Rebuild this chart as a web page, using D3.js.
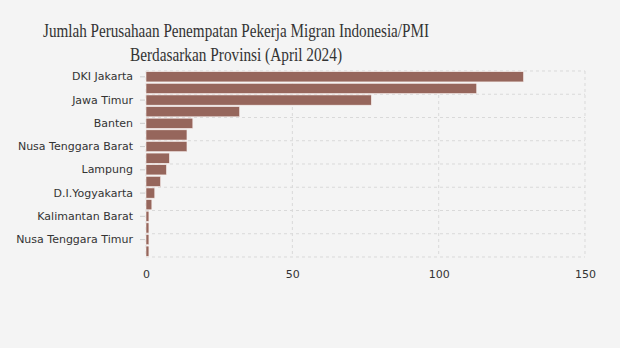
<!DOCTYPE html>
<html lang="en">
<head>
<meta charset="utf-8">
<title>Jumlah Perusahaan Penempatan PMI</title>
<script src="https://cdn.jsdelivr.net/npm/d3@7"></script>
<style>
body { margin:0; background:#f4f4f4; }
svg { display:block; }
.axis text { font-family:"DejaVu Sans", Verdana, sans-serif; font-size:11px; fill:#333; }
.axis .domain { display:none; }
.grid line { stroke:#d9d9d9; stroke-dasharray:3,3; }
</style>
</head>
<body>
<svg width="620" height="348"></svg>
<script>
var provinces = ["DKI Jakarta","Jawa Barat","Jawa Timur","Jawa Tengah","Banten","Sumatera Utara",
  "Nusa Tenggara Barat","Kepulauan Riau","Lampung","Sulawesi Selatan","D.I.Yogyakarta","Bali",
  "Kalimantan Barat","Sumatera Barat","Nusa Tenggara Timur","Kalimantan Timur"];
var counts = [129,113,77,32,16,14,14,8,7,5,3,2,1,1,1,1];
var xTicks = [0,50,100,150];
var titleLines = ["Jumlah Perusahaan Penempatan Pekerja Migran Indonesia/PMI","Berdasarkan Provinsi (April 2024)"];
var titleWidths = [386, 212];

var svg = d3.select("svg"),
    margin = {top:71, left:146, right:35, bottom:91},
    width = 620 - margin.left - margin.right,
    height = 348 - margin.top - margin.bottom;

svg.append("rect").attr("width",620).attr("height",348).attr("fill","#f4f4f4");

svg.selectAll(".title").data(titleLines).enter().append("text")
  .attr("class","title")
  .attr("x",236).attr("y",function(d,i){ return 37 + i*24; })
  .attr("text-anchor","middle")
  .attr("textLength",function(d,i){ return titleWidths[i]; })
  .attr("lengthAdjust","spacingAndGlyphs")
  .style("font-family","'Liberation Serif', 'Times New Roman', Times, serif")
  .style("font-size","19px")
  .style("fill","#333")
  .text(function(d){ return d; });

var x = d3.scaleLinear().domain([0,150]).range([0,width]);
var y = d3.scaleBand().domain(provinces).range([0,height]).paddingInner(0.12).paddingOuter(0.06);

var g = svg.append("g").attr("transform","translate(" + margin.left + "," + margin.top + ")");

// grid
var grid = g.append("g").attr("class","grid");
grid.selectAll(".v").data(xTicks).enter().append("line")
  .attr("x1",function(d){ return x(d); }).attr("x2",function(d){ return x(d); })
  .attr("y1",0).attr("y2",height);
var step = y.step();
var hLines = d3.range(0, provinces.length + 1, 2);
grid.selectAll(".h").data(hLines).enter().append("line")
  .attr("x1",0).attr("x2",width)
  .attr("y1",function(d){ return Math.min(d*step, height); })
  .attr("y2",function(d){ return Math.min(d*step, height); });

// bars
g.selectAll(".bar").data(provinces).enter().append("rect")
  .attr("class","bar")
  .attr("x",x(0))
  .attr("y",function(d){ return y(d); })
  .attr("width",function(d,i){ return x(counts[i]) - x(0); })
  .attr("height",y.bandwidth())
  .attr("fill","#96665c")
  .attr("stroke","#f8f0ee").attr("stroke-width",0.6);

// y axis, every other label
var yAxis = g.append("g").attr("class","axis")
  .call(d3.axisLeft(y).tickValues(provinces.filter(function(d,i){ return i % 2 === 0; }))
    .tickSize(5).tickPadding(8));
yAxis.selectAll(".tick line").attr("stroke","#ccc").attr("transform","translate(-1,0)");

// x axis
var xAxis = g.append("g").attr("class","axis")
  .attr("transform","translate(0," + height + ")")
  .call(d3.axisBottom(x).tickValues(xTicks).tickSize(0).tickPadding(13));
</script>
</body>
</html>
